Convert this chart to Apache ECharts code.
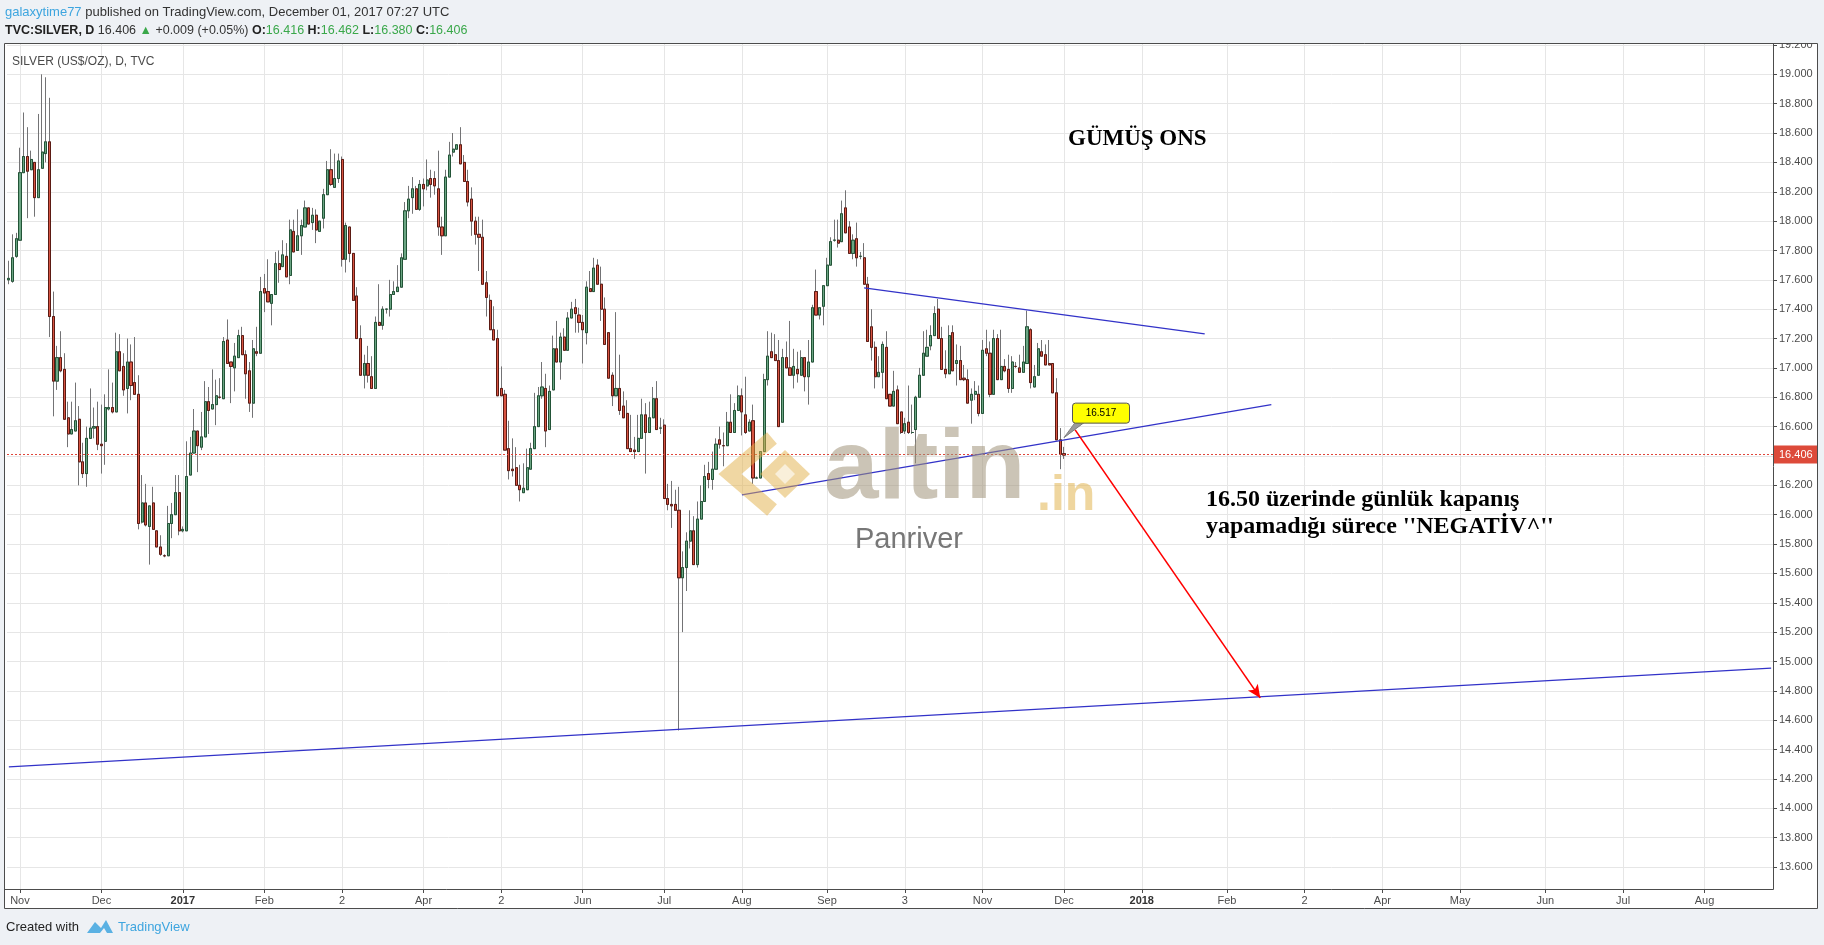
<!DOCTYPE html>
<html><head><meta charset="utf-8">
<script src="https://cdn.jsdelivr.net/npm/echarts@6/dist/echarts.min.js"></script>
<style>html,body{margin:0;padding:0;background:#eef1f5}#c{width:1824px;height:945px}</style>
</head><body><div id="c"></div>
<script>
// ---- Daily candles TVC:SILVER (Oct 27 2016 -> Dec 01 2017) ----
const opens = [
17.60,17.59,17.76,17.87,18.33,18.44,18.35,18.40,18.16,18.36,
18.46,18.54,17.35,16.91,17.07,16.99,16.66,16.55,16.57,16.65,
16.36,16.28,16.52,16.59,16.60,16.48,16.50,16.72,16.73,16.70,
17.11,17.01,16.86,17.04,16.90,16.82,15.95,16.08,15.92,16.08,
15.89,15.78,15.72,15.72,15.94,16.00,16.15,15.89,15.89,16.27,
16.42,16.57,16.46,16.53,16.77,16.72,16.75,16.80,16.79,17.19,
17.04,17.00,17.07,17.22,17.09,16.98,16.76,17.11,17.10,17.54,
17.52,17.44,17.50,17.71,17.69,17.76,17.63,17.93,17.80,17.90,
17.96,18.09,17.99,18.04,17.93,18.02,18.18,18.35,18.23,18.29,
18.42,17.74,17.96,17.78,17.49,17.20,16.95,17.03,16.94,16.86,
17.31,17.29,17.40,17.40,17.50,17.52,17.55,17.74,18.07,18.16,
18.22,18.08,18.25,18.24,18.29,18.29,18.22,17.96,17.90,18.30,
18.47,18.49,18.52,18.40,18.27,18.15,18.00,17.91,17.89,17.58,
17.46,17.26,17.20,16.86,16.82,16.45,16.31,16.32,16.20,16.15,
16.17,16.31,16.45,16.60,16.81,16.86,16.58,16.85,17.13,17.04,
17.21,17.12,17.34,17.41,17.36,17.31,17.24,17.54,17.52,17.70,
17.57,17.40,17.24,16.95,16.81,16.86,16.74,16.69,16.45,16.44,
16.43,16.52,16.68,16.56,16.66,16.79,16.59,16.61,16.11,16.07,
16.07,16.03,15.57,15.64,15.82,15.89,15.66,15.97,16.09,16.28,
16.24,16.31,16.51,16.47,16.47,16.63,16.56,16.71,16.81,16.68,
16.57,16.64,16.25,16.25,16.43,16.92,17.11,17.09,17.05,16.63,
17.07,17.00,16.95,16.99,16.95,17.07,16.94,17.04,17.52,17.36,
17.42,17.56,17.70,17.87,17.87,17.86,18.09,17.96,17.78,17.88,
17.76,17.75,17.57,17.28,17.14,16.94,16.97,17.14,16.82,16.74,
16.85,16.70,16.57,16.63,16.56,16.58,16.80,16.95,17.08,17.15,
17.22,17.40,17.20,16.99,16.96,17.24,17.03,17.05,16.93,16.92,
16.78,16.82,16.82,16.69,17.13,17.10,16.82,17.20,16.92,17.01,
16.99,16.86,17.01,17.00,16.97,17.03,17.26,16.87,16.95,17.11,
17.09,17.03,17.03,16.83,16.51,16.416];
const closes = [
17.61,17.75,17.88,18.33,18.44,18.34,18.42,18.16,18.35,18.47,
18.54,17.35,16.91,17.07,16.98,16.65,16.55,16.58,16.64,16.36,
16.28,16.52,16.59,16.60,16.48,16.47,16.73,16.73,16.70,17.11,
16.98,16.85,17.04,16.88,16.82,15.94,16.08,15.93,16.06,15.90,
15.78,15.73,15.72,15.94,16.00,16.15,15.89,15.90,16.26,16.42,
16.57,16.47,16.53,16.77,16.71,16.75,16.81,16.80,17.18,17.03,
17.01,17.08,17.22,17.09,16.96,16.76,17.13,17.10,17.52,17.51,
17.45,17.50,17.71,17.67,17.77,17.62,17.94,17.79,17.90,17.97,
18.09,17.98,18.04,17.94,18.00,18.18,18.35,18.25,18.29,18.41,
17.74,17.97,17.78,17.46,17.20,16.95,17.03,16.95,16.86,17.31,
17.29,17.40,17.40,17.50,17.52,17.55,17.75,18.07,18.15,18.22,
18.08,18.25,18.22,18.28,18.25,18.24,17.96,17.90,18.30,18.45,
18.49,18.52,18.39,18.27,18.13,18.00,17.91,17.89,17.57,17.48,
17.26,17.19,16.81,16.81,16.44,16.30,16.30,16.20,16.17,16.18,
16.32,16.45,16.60,16.81,16.87,16.57,16.84,17.13,17.04,17.21,
17.12,17.34,17.40,17.37,17.31,17.26,17.55,17.52,17.68,17.57,
17.40,17.16,16.93,16.81,16.86,16.71,16.66,16.45,16.43,16.43,
16.52,16.68,16.56,16.66,16.79,16.58,16.59,16.11,16.07,16.06,
16.03,15.57,15.64,15.82,15.89,15.66,15.97,16.09,16.26,16.24,
16.31,16.48,16.48,16.47,16.63,16.56,16.71,16.81,16.70,16.56,
16.63,16.25,16.25,16.43,16.92,17.08,17.07,17.05,16.60,17.07,
17.00,16.95,17.01,16.96,17.07,16.94,17.04,17.41,17.36,17.41,
17.56,17.70,17.86,17.87,17.85,18.05,17.92,17.78,17.87,17.75,
17.76,17.57,17.18,17.14,16.94,16.97,17.16,16.79,16.74,16.84,
16.62,16.56,16.62,16.56,16.56,16.80,16.95,17.10,17.14,17.22,
17.37,17.20,16.99,16.96,17.22,16.98,17.05,16.92,16.92,16.76,
16.82,16.84,16.69,17.12,17.10,16.82,17.20,16.92,17.01,16.98,
16.86,17.04,17.01,16.97,17.04,17.28,16.90,16.94,17.13,17.08,
17.02,17.02,16.83,16.51,16.41,16.406];
const highs = [
17.73,17.91,17.92,18.50,18.74,18.64,18.48,18.40,18.73,19.00,
18.98,18.84,17.52,17.15,17.25,17.10,16.77,16.77,16.90,16.74,
16.49,16.60,16.86,16.73,16.77,16.75,16.82,16.99,16.90,17.24,
17.23,17.10,17.20,17.16,17.21,16.95,16.27,16.21,16.06,16.19,
15.89,15.86,15.73,16.06,16.08,16.27,16.27,15.92,16.50,16.53,
16.72,16.57,16.70,16.91,16.87,16.99,16.92,16.93,17.21,17.33,
17.04,17.17,17.26,17.28,17.12,17.04,17.19,17.28,17.62,17.64,
17.74,17.50,17.79,17.80,17.87,17.85,18.01,18.01,18.08,18.01,
18.14,18.09,18.09,18.08,18.00,18.22,18.41,18.49,18.46,18.46,
18.44,17.99,17.96,17.78,17.55,17.29,17.09,17.15,17.08,17.35,
17.57,17.42,17.40,17.60,17.59,17.70,17.78,18.13,18.24,18.30,
18.24,18.28,18.29,18.42,18.35,18.34,18.48,18.03,18.35,18.54,
18.60,18.52,18.64,18.45,18.35,18.23,18.03,18.03,18.01,17.66,
17.50,17.42,17.26,17.01,16.85,16.64,16.52,16.46,16.34,16.35,
16.45,16.49,16.83,16.87,17.04,16.96,16.88,17.22,17.32,17.24,
17.27,17.38,17.45,17.47,17.41,17.36,17.59,17.66,17.75,17.74,
17.69,17.48,17.24,16.97,17.38,17.09,16.84,16.78,16.68,16.53,
16.68,16.79,16.76,16.77,16.87,16.91,16.66,16.65,16.21,16.23,
16.17,16.19,15.75,15.88,16.03,15.99,16.09,16.20,16.34,16.36,
16.43,16.52,16.60,16.56,16.70,16.82,16.76,16.88,16.86,16.94,
16.65,16.75,16.26,16.43,16.96,17.25,17.24,17.23,17.19,17.13,
17.18,17.32,17.13,17.11,17.12,17.07,17.19,17.43,17.67,17.41,
17.56,17.75,17.89,18.01,18.01,18.14,18.21,18.00,17.91,17.99,
17.79,17.85,17.62,17.40,17.18,17.08,17.18,17.25,16.82,16.98,
16.88,16.70,16.66,16.88,16.75,16.81,17.00,17.25,17.26,17.29,
17.42,17.47,17.28,17.12,17.29,17.29,17.16,17.15,17.02,16.99,
16.86,16.91,16.88,17.19,17.26,17.18,17.26,17.23,17.26,17.06,
17.09,17.08,17.04,17.09,17.15,17.39,17.27,17.02,17.17,17.19,
17.16,17.19,17.03,16.93,16.59,16.462];
const lows = [
17.57,17.58,17.75,17.87,18.33,18.02,18.35,18.03,18.16,18.36,
18.40,17.21,16.67,16.85,16.97,16.65,16.46,16.55,16.57,16.20,
16.25,16.19,16.52,16.52,16.44,16.28,16.34,16.71,16.69,16.70,
16.98,16.81,16.69,16.78,16.82,15.90,15.94,15.92,15.66,15.90,
15.78,15.72,15.71,15.72,15.84,16.00,15.86,15.88,15.89,16.27,
16.42,16.29,16.44,16.53,16.55,16.72,16.61,16.79,16.79,17.03,
16.76,16.84,17.07,17.09,16.79,16.70,16.66,17.08,17.10,17.38,
17.45,17.29,17.50,17.58,17.69,17.62,17.57,17.79,17.80,17.77,
17.96,17.98,17.94,17.85,17.93,17.95,18.18,18.24,18.23,18.26,
17.69,17.65,17.72,17.46,17.20,16.95,16.86,16.90,16.86,16.86,
17.29,17.26,17.37,17.35,17.50,17.52,17.55,17.74,18.02,18.05,
18.08,18.07,18.10,18.21,18.16,18.18,17.90,17.77,17.90,18.30,
18.44,18.49,18.39,18.27,18.10,17.90,17.84,17.66,17.57,17.35,
17.26,17.19,16.81,16.81,16.44,16.24,16.26,16.20,16.09,16.15,
16.17,16.31,16.45,16.60,16.79,16.46,16.58,16.85,17.04,16.92,
17.12,17.12,17.34,17.24,17.24,17.03,17.16,17.52,17.52,17.57,
17.32,17.16,16.93,16.74,16.81,16.68,16.66,16.45,16.43,16.38,
16.43,16.52,16.28,16.56,16.66,16.58,16.55,16.11,16.03,15.91,
16.03,14.53,15.20,15.48,15.77,15.66,15.64,15.97,16.09,16.18,
16.17,16.31,16.45,16.33,16.47,16.56,16.56,16.71,16.54,16.55,
16.57,16.21,16.25,16.25,16.43,16.88,17.07,17.05,16.60,16.63,
17.00,16.95,16.86,16.90,16.95,16.84,16.75,17.04,17.36,17.33,
17.29,17.56,17.70,17.86,17.82,17.86,17.92,17.78,17.74,17.69,
17.74,17.57,17.18,17.05,16.86,16.94,16.86,16.79,16.74,16.74,
16.62,16.55,16.55,16.55,16.55,16.35,16.80,16.95,17.08,17.12,
17.22,17.20,16.99,16.93,16.96,16.98,16.88,16.92,16.91,16.76,
16.62,16.78,16.67,16.69,17.08,16.80,16.82,16.92,16.92,16.97,
16.83,16.83,17.00,16.97,16.97,17.03,16.86,16.87,16.95,17.08,
17.02,17.02,16.83,16.51,16.31,16.380];

// x-axis ticks (bar index -> label)
const tickIndex  = [3,25,47,69,90,112,133,155,177,198,221,242,263,285,306,329,350,371,392,415,436,458];
const tickLabels = ['Nov','Dec','2017','Feb','2','Apr','2','Jun','Jul','Aug','Sep','3','Nov','Dec','2018','Feb','2','Apr','May','Jun','Jul','Aug'];
const boldLabels = ['2017','2018'];
const totalSlots = 477;               // bars incl. empty future space
const lastPrice = 16.406;
const calloutText = '16.517';
const calloutAnchor = [285, 16.525];

// drawings: [barIndex, price]
const upperLine   = [[231, 17.545], [323, 17.232]];
const lowerLine   = [[198, 16.135], [341, 16.750]];
const supportLine = [[0, 14.282], [476, 14.955]];
const arrowLine   = [[288, 16.578], [338, 14.752]];

// ---------------------------------------------------------------
const categories = Array.from({length: totalSlots}, (_, i) => String(i));
const candles = opens.map((o, i) => [o, closes[i], lows[i], highs[i]]);
const bodies  = opens.map((o, i) => [o, closes[i], Math.min(o, closes[i]), Math.max(o, closes[i])]);
const tickMap = {};
tickIndex.forEach((t, k) => { tickMap[t] = tickLabels[k]; });
const isTick = (i) => tickMap[i] !== undefined;

const SANS = 'Liberation Sans, Arial, sans-serif';
const SERIF = 'Liberation Serif, Times New Roman, serif';
const BG = '#eef1f5';
const AX = '#4c4c4c';
const GRID = '#e6e6e6';
const BLUE = '#3232c8';

const chart = echarts.init(document.getElementById('c'));
chart.setOption({
  backgroundColor: '#ffffff',
  animation: false,
  grid: {left: 7, right: 51, top: 43.5, bottom: 56, containLabel: false},
  xAxis: {
    type: 'category', data: categories, boundaryGap: true,
    axisLine: {show: false},
    axisTick: {show: true, interval: (i) => isTick(i), alignWithLabel: true, length: 4, lineStyle: {color: AX}},
    axisLabel: {
      interval: (i) => isTick(i), margin: 6, color: AX, fontSize: 11, fontFamily: SANS,
      formatter: (v, i) => { const l = tickMap[i] || ''; return boldLabels.includes(l) ? '{b|' + l + '}' : l; },
      rich: {b: {fontWeight: 'bold', fontSize: 11, color: '#333', fontFamily: SANS}}
    },
    splitLine: {show: true, interval: (i) => isTick(i), alignWithLabel: true, lineStyle: {color: GRID, width: 1}}
  },
  yAxis: {
    type: 'value', position: 'right', min: 13.45, max: 19.21, splitNumber: 29, minInterval: 0.2, maxInterval: 0.2,
    axisLine: {show: false},
    axisTick: {show: true, length: 4, lineStyle: {color: AX}},
    axisLabel: {margin: 6, color: AX, fontSize: 11, fontFamily: SANS, formatter: (v) => v.toFixed(3), showMinLabel: false, showMaxLabel: false},
    splitLine: {lineStyle: {color: GRID, width: 1}}
  },
  series: [
    {
      type: 'candlestick', name: 'wicks', data: candles, barWidth: 2.6, z: 2, silent: true,
      itemStyle: {color: '#737375', color0: '#737375', borderColor: '#737375', borderColor0: '#737375', borderWidth: 1},
      markLine: {
        silent: true, symbol: ['none', 'none'],
        data: [{yAxis: lastPrice}],
        lineStyle: {color: '#e0463a', type: [2, 2], width: 1},
        label: {show: true, position: 'end', distance: 0, formatter: lastPrice.toFixed(3), backgroundColor: '#dd4a3a',
                color: '#ffffff', padding: [4, 6, 3, 6], fontSize: 11, fontFamily: SANS}
      }
    },
    {
      type: 'candlestick', name: 'bodies', data: bodies, barWidth: 2.6, z: 3, silent: true,
      itemStyle: {color: '#6ba583', color0: '#d75442', borderColor: '#225437', borderColor0: '#5b1a13', borderWidth: 1}
    },
    {
      type: 'line', name: 'drawings', data: [], z: 10, silent: true, showSymbol: false,
      markLine: {
        silent: true, symbol: ['none', 'none'], label: {show: false},
        lineStyle: {color: BLUE, width: 1.3, type: 'solid'},
        data: [
          [{coord: upperLine[0]}, {coord: upperLine[1]}],
          [{coord: lowerLine[0]}, {coord: lowerLine[1]}],
          [{coord: supportLine[0]}, {coord: supportLine[1]}],
          [{coord: arrowLine[0], symbol: 'none', lineStyle: {color: '#ff0000', width: 1.6}},
           {coord: arrowLine[1], symbol: 'arrow', symbolSize: [9, 13], lineStyle: {color: '#ff0000', width: 1.6}}]
        ]
      }
    }
  ]
});

// ---- annotation graphics ----
const anchor = chart.convertToPixel({xAxisIndex: 0, yAxisIndex: 0}, calloutAnchor);
const ax = anchor[0], ay = anchor[1];
const gold = 'rgba(225,176,72,0.5)';

chart.setOption({
  graphic: [
    // watermark (over candles, under drawings)
    {type: 'polyline', z: 5, silent: true, shape: {points: [[772, 438], [730, 474], [772, 510]]},
     style: {stroke: gold, lineWidth: 15, fill: null}},
    {type: 'polygon', z: 5, silent: true, shape: {points: [[785, 450], [810, 474], [785, 498], [760, 474]]},
     style: {fill: gold}},
    {type: 'polygon', z: 5, silent: true, shape: {points: [[785, 464], [795, 474], [785, 484], [775, 474]]},
     style: {fill: 'rgba(255,255,255,0.6)'}},
    {type: 'text', z: 5, silent: true, x: 824, y: 471,
     style: {text: 'altin', font: 'bold 98px ' + SANS, fill: 'rgba(160,148,122,0.55)', align: 'left', verticalAlign: 'middle'}},
    {type: 'text', z: 5, silent: true, x: 1037, y: 496,
     style: {text: '.in', font: 'bold 50px ' + SANS, fill: 'rgba(225,180,80,0.55)', align: 'left', verticalAlign: 'middle'}},
    {type: 'text', z: 5, silent: true, x: 855, y: 540,
     style: {text: 'Panriver', font: '29px ' + SANS, fill: '#777777', align: 'left', verticalAlign: 'middle'}},

    // callout 16.517
    {type: 'polygon', z: 20, silent: true, shape: {points: [[ax + 11, ay - 15], [ax + 20, ay - 15], [ax, ay]]},
     style: {fill: '#9a9a9a', stroke: '#808080', lineWidth: 1}},
    {type: 'rect', z: 21, silent: true, shape: {x: ax + 8.5, y: ay - 34.5, width: 57, height: 20, r: 3},
     style: {fill: '#ffff00', stroke: '#555555', lineWidth: 1}},
    {type: 'text', z: 22, silent: true, x: ax + 37, y: ay - 24.5,
     style: {text: calloutText, font: '10px ' + SANS, fill: '#000000', align: 'center', verticalAlign: 'middle'}},

    // texts
    {type: 'text', z: 22, silent: true, x: 1068, y: 139,
     style: {text: 'GÜMÜŞ ONS', font: 'bold 23px ' + SERIF, fill: '#000000', align: 'left', verticalAlign: 'middle'}},
    {type: 'text', z: 22, silent: true, x: 1206, y: 500,
     style: {text: '16.50 üzerinde günlük kapanış', font: 'bold 24px ' + SERIF, fill: '#000000', align: 'left', verticalAlign: 'middle'}},
    {type: 'text', z: 22, silent: true, x: 1206, y: 527,
     style: {text: "yapamadığı sürece ''NEGATİV^''", font: 'bold 24px ' + SERIF, fill: '#000000', align: 'left', verticalAlign: 'middle'}},
    {type: 'text', z: 22, silent: true, x: 12, y: 62,
     style: {text: 'SILVER (US$/OZ), D, TVC', font: '12px ' + SANS, fill: '#4a4a4a', align: 'left', verticalAlign: 'middle'}},

    // page background around the chart box
    {type: 'rect', z: 100, silent: true, shape: {x: 0, y: 0, width: 1824, height: 43.5}, style: {fill: BG}},
    {type: 'rect', z: 100, silent: true, shape: {x: 0, y: 908.5, width: 1824, height: 40}, style: {fill: BG}},
    {type: 'rect', z: 100, silent: true, shape: {x: 0, y: 0, width: 4, height: 945}, style: {fill: BG}},
    {type: 'rect', z: 100, silent: true, shape: {x: 1817.5, y: 0, width: 10, height: 945}, style: {fill: BG}},
    // borders
    {type: 'rect', z: 101, silent: true, shape: {x: 4.5, y: 43.5, width: 1813, height: 865}, style: {fill: null, stroke: AX, lineWidth: 1}},
    {type: 'line', z: 101, silent: true, shape: {x1: 1773.5, y1: 43.5, x2: 1773.5, y2: 889.5}, style: {stroke: AX, lineWidth: 1}},
    {type: 'line', z: 101, silent: true, shape: {x1: 4.5, y1: 889.5, x2: 1773.5, y2: 889.5}, style: {stroke: AX, lineWidth: 1}},

    // header
    {type: 'text', z: 102, silent: true, x: 5, y: 12,
     style: {text: '{u|galaxytime77}{t| published on TradingView.com, December 01, 2017 07:27 UTC}', verticalAlign: 'middle', align: 'left',
             rich: {u: {fill: '#3da5df', font: '13px ' + SANS}, t: {fill: '#333333', font: '13px ' + SANS}}}},
    {type: 'text', z: 102, silent: true, x: 5, y: 31,
     style: {text: '{b|TVC:SILVER, D}{n| 16.406 }{g|▲}{n| +0.009 (+0.05%) }{b|O:}{g|16.416}{n| }{b|H:}{g|16.462}{n| }{b|L:}{g|16.380}{n| }{b|C:}{g|16.406}',
             verticalAlign: 'middle', align: 'left',
             rich: {b: {fill: '#222222', font: 'bold 12.5px ' + SANS}, n: {fill: '#333333', font: '12.5px ' + SANS}, g: {fill: '#3aa84a', font: '12.5px ' + SANS}}}},
    // footer
    {type: 'text', z: 102, silent: true, x: 6, y: 927,
     style: {text: 'Created with', font: '13px ' + SANS, fill: '#222222', align: 'left', verticalAlign: 'middle'}},
    {type: 'polygon', z: 102, silent: true, shape: {points: [[87, 933], [95, 922], [101, 928], [106, 920], [113, 933], [107, 933], [104, 928], [100, 933]]},
     style: {fill: '#5ab1e3'}},
    {type: 'text', z: 102, silent: true, x: 118, y: 927,
     style: {text: 'TradingView', font: '13px ' + SANS, fill: '#3da5df', align: 'left', verticalAlign: 'middle'}}
  ]
});
</script>
</body></html>
